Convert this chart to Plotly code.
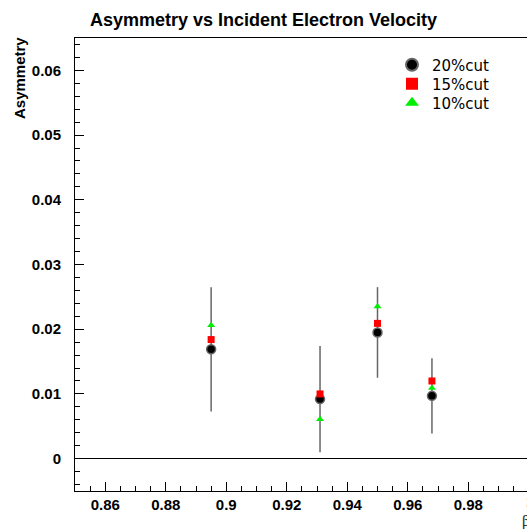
import plotly.graph_objects as go

# ---- data ----
beta = [0.895, 0.931, 0.950, 0.968]
asym_20 = [0.0169, 0.0092, 0.0195, 0.0097]
err_20 = [0.0096, 0.0082, 0.0070, 0.0058]
asym_15 = [0.0184, 0.0100, 0.0209, 0.0120]
asym_10 = [0.0206, 0.0061, 0.0235, 0.0109]

x_tickvals = [0.86, 0.88, 0.90, 0.92, 0.94, 0.96, 0.98]
x_ticktext = ["0.86", "0.88", "0.9", "0.92", "0.94", "0.96", "0.98"]
y_tickvals = [0, 0.01, 0.02, 0.03, 0.04, 0.05, 0.06]
y_ticktext = ["0", "0.01", "0.02", "0.03", "0.04", "0.05", "0.06"]

W, H = 527, 532
L, T, B, R = 75, 38, 41, 0
pw = W - L - R
ph = H - T - B


def py(px):
    """pixel row -> paper y"""
    return 1 - (px - T) / ph


def pxx(px):
    """pixel column -> paper x"""
    return (px - L) / pw


fig = go.Figure()
fig.add_trace(go.Scatter(
    x=beta, y=asym_20, mode="markers", name="20%cut", legend="legend",
    marker=dict(symbol="circle", size=9, color="black",
                line=dict(color="#666666", width=1.5)),
    error_y=dict(type="data", array=err_20, visible=True,
                 color="#666666", thickness=1.5, width=0),
))
fig.add_trace(go.Scatter(
    x=beta, y=asym_15, mode="markers", name="15%cut", legend="legend2",
    marker=dict(symbol="square", size=7, color="#ff0000", line=dict(width=0)),
))
fig.add_trace(go.Scatter(
    x=beta, y=asym_10, mode="markers", name="10%cut", legend="legend3",
    marker=dict(symbol="triangle-up", size=7, color="#00ee00", line=dict(width=0)),
))

tickfont = dict(family="Liberation Sans", size=15, color="black", weight="bold")
legfont = dict(family="DejaVu Sans", size=15, color="black")


def leg(yc):
    return dict(x=pxx(392), y=py(yc), xanchor="left", yanchor="middle",
                bgcolor="rgba(0,0,0,0)", borderwidth=0, font=legfont,
                itemsizing="constant")


fig.update_layout(
    width=W, height=H,
    margin=dict(l=L, r=R, t=T, b=B, pad=0),
    paper_bgcolor="white", plot_bgcolor="white",
    title=dict(text="<b>Asymmetry vs Incident Electron Velocity</b>",
               x=0.5, xref="container", xanchor="center",
               y=1 - 20 / H, yref="container", yanchor="middle",
               font=dict(family="Liberation Sans", size=18, color="black")),
    showlegend=True,
    legend=leg(65), legend2=leg(84), legend3=leg(103),
    xaxis=dict(range=[0.85, 0.85 + pw / 60.5 * 0.02],
               tickvals=x_tickvals, ticktext=x_ticktext,
               ticks="inside", ticklen=9, tickwidth=1, tickcolor="black",
               minor=dict(dtick=0.005, tick0=0.85, ticks="inside", ticklen=5,
                          tickwidth=1, tickcolor="black", showgrid=False),
               showline=True, linecolor="black", linewidth=1, mirror=True,
               showgrid=False, zeroline=False, tickfont=tickfont),
    yaxis=dict(range=[-0.005, 0.065],
               tickvals=y_tickvals, ticktext=y_ticktext,
               ticks="inside", ticklen=9, tickwidth=1, tickcolor="black",
               minor=dict(dtick=0.002, tick0=0, ticks="inside", ticklen=5,
                          tickwidth=1, tickcolor="black", showgrid=False),
               showline=True, linecolor="black", linewidth=1, mirror=False,
               showgrid=False, zeroline=True, zerolinecolor="black", zerolinewidth=1,
               tickfont=tickfont, ticklabelstandoff=10),
)

fig.add_annotation(text="<b>Asymmetry</b>", textangle=-90,
                   xref="paper", yref="paper",
                   x=pxx(19), y=py(78),
                   xanchor="center", yanchor="middle", showarrow=False,
                   font=dict(family="Liberation Sans", size=15, color="black"))
fig.add_annotation(text="<b>1</b>", xref="paper", yref="paper",
                   x=pxx(530), y=py(502),
                   xanchor="center", yanchor="middle", showarrow=False,
                   font=tickfont)
fig.add_annotation(text="β", xref="paper", yref="paper",
                   x=pxx(526), y=py(521),
                   xanchor="center", yanchor="middle", showarrow=False,
                   font=dict(family="DejaVu Serif", size=15, color="#333333"))

fig.write_html("out.html")
